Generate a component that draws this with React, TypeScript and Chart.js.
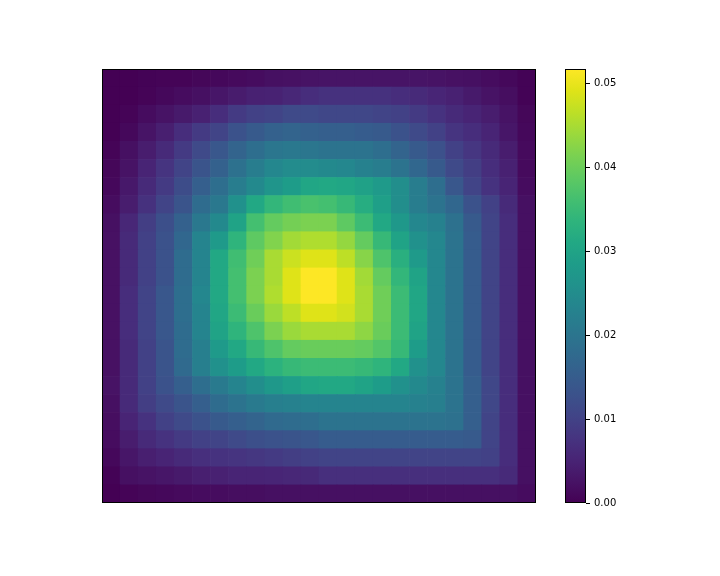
import React, { useEffect, useRef } from "react";
import { Chart, registerables } from "chart.js";

Chart.register(...registerables);

// Column categories of the 24 x 24 grid
const columnLabels = [
  "0", "1", "2", "3", "4", "5", "6", "7", "8", "9", "10", "11",
  "12", "13", "14", "15", "16", "17", "18", "19", "20", "21", "22", "23",
];

// Grid values, top row first, in units of 1e-3
const row00 = [0.0, 0.0, 0.3, 0.5, 0.5, 0.8, 1.0, 1.3, 1.6, 2.1, 2.3, 2.6, 2.8, 2.8, 2.8, 2.8, 2.8, 2.8, 2.6, 2.3, 2.1, 1.6, 1.0, 0.3];
const row01 = [0.0, 0.0, 0.5, 1.0, 1.6, 2.1, 3.1, 3.9, 4.7, 4.9, 5.7, 6.7, 7.2, 7.2, 7.2, 7.2, 6.7, 6.2, 5.4, 4.7, 3.6, 2.6, 1.8, 0.3];
const row02 = [0.0, 0.5, 1.6, 2.6, 3.6, 4.7, 6.7, 8.8, 9.8, 10.3, 11.4, 11.4, 10.9, 10.9, 10.9, 10.3, 9.8, 8.8, 7.5, 6.2, 5.2, 4.1, 2.6, 0.8];
const row03 = [0.0, 1.0, 2.8, 4.4, 6.7, 8.8, 10.3, 12.9, 14.5, 16.0, 16.5, 16.0, 15.5, 15.5, 15.0, 14.5, 12.9, 11.4, 9.8, 7.8, 6.7, 5.2, 3.1, 1.0];
const row04 = [0.5, 2.1, 4.1, 6.2, 8.8, 11.4, 14.0, 16.5, 18.6, 20.2, 20.7, 20.2, 19.6, 19.6, 19.6, 18.6, 16.5, 14.5, 12.7, 9.8, 8.0, 6.2, 4.1, 1.3];
const row05 = [0.8, 2.6, 5.2, 7.8, 10.3, 13.4, 16.0, 19.1, 21.7, 23.8, 24.8, 24.8, 24.3, 23.8, 22.7, 21.7, 19.6, 17.1, 14.5, 11.4, 9.3, 6.7, 4.7, 1.3];
const row06 = [1.0, 3.4, 6.2, 8.8, 11.9, 15.5, 18.6, 21.7, 24.3, 26.9, 28.4, 30.5, 31.0, 30.5, 29.5, 27.9, 25.3, 21.7, 18.6, 14.0, 10.3, 7.5, 5.2, 1.6];
const row07 = [1.6, 4.1, 7.2, 10.3, 13.4, 18.1, 20.7, 25.9, 31.0, 34.1, 35.7, 36.7, 36.2, 34.6, 32.1, 29.0, 25.3, 21.7, 19.6, 17.1, 12.9, 9.8, 6.2, 2.1];
const row08 = [2.1, 5.7, 9.3, 12.4, 16.0, 20.7, 24.3, 30.0, 36.2, 39.3, 40.8, 41.4, 41.4, 38.8, 35.2, 31.0, 27.4, 23.8, 22.7, 19.1, 14.5, 10.3, 6.7, 2.1];
const row09 = [2.3, 6.2, 9.8, 12.9, 17.1, 23.3, 27.9, 33.6, 38.8, 41.9, 44.5, 45.5, 45.5, 43.4, 39.3, 34.6, 30.0, 25.9, 23.8, 19.6, 15.0, 10.3, 6.7, 2.1];
const row10 = [2.3, 6.2, 9.8, 12.9, 18.1, 23.3, 31.0, 35.7, 40.3, 45.0, 47.6, 49.1, 49.1, 46.5, 42.4, 37.2, 32.6, 27.9, 23.8, 19.6, 15.0, 10.3, 6.7, 2.1];
const row11 = [2.3, 6.2, 9.8, 12.9, 18.1, 23.3, 31.0, 36.2, 41.4, 45.0, 49.1, 51.7, 51.7, 49.1, 44.5, 39.3, 34.1, 30.0, 23.8, 19.6, 15.0, 10.3, 6.7, 2.1];
const row12 = [2.3, 6.7, 10.3, 14.0, 18.6, 23.8, 31.0, 36.2, 41.4, 45.5, 49.1, 51.7, 51.7, 49.1, 45.0, 40.3, 35.2, 30.5, 23.8, 19.6, 15.0, 10.3, 6.7, 2.1];
const row13 = [2.3, 6.7, 10.3, 14.0, 18.6, 23.3, 30.5, 35.2, 39.8, 43.9, 46.5, 49.1, 49.1, 48.1, 45.0, 40.3, 35.2, 30.5, 23.8, 19.6, 15.0, 10.3, 6.7, 2.1];
const row14 = [2.3, 6.7, 10.3, 14.0, 18.1, 23.3, 30.0, 33.6, 37.2, 41.4, 43.9, 45.0, 45.0, 45.0, 42.9, 39.8, 35.2, 30.0, 23.8, 19.6, 15.0, 10.3, 6.7, 2.1];
const row15 = [2.3, 6.2, 9.8, 13.4, 18.1, 22.2, 27.9, 31.0, 34.6, 37.2, 39.3, 39.8, 39.8, 39.8, 39.3, 37.7, 34.6, 28.4, 23.8, 19.6, 15.0, 10.3, 6.7, 2.1];
const row16 = [2.3, 6.2, 9.8, 13.4, 17.6, 22.2, 25.9, 28.4, 31.0, 33.1, 34.6, 35.2, 35.2, 35.2, 34.6, 33.6, 31.0, 25.9, 23.8, 19.6, 15.0, 10.3, 6.7, 2.1];
const row17 = [2.6, 6.2, 9.8, 12.9, 15.5, 18.6, 21.2, 23.3, 25.3, 27.4, 29.0, 30.5, 31.0, 31.0, 30.0, 28.4, 25.9, 24.3, 22.7, 19.6, 15.5, 10.9, 6.7, 2.1];
const row18 = [2.1, 6.2, 9.3, 11.4, 13.4, 15.5, 18.1, 19.6, 21.2, 22.2, 22.7, 23.3, 23.3, 23.3, 23.3, 23.3, 23.3, 22.7, 22.2, 19.6, 15.5, 10.9, 6.7, 2.1];
const row19 = [1.8, 5.2, 7.5, 9.8, 11.4, 12.9, 14.5, 15.5, 16.5, 17.6, 18.1, 18.6, 19.6, 19.6, 19.6, 19.6, 19.6, 19.6, 19.6, 19.1, 15.5, 10.3, 6.7, 2.1];
const row20 = [1.6, 4.1, 6.2, 7.5, 8.8, 9.8, 10.3, 11.4, 12.4, 12.9, 13.4, 14.0, 15.0, 15.0, 15.0, 15.0, 15.0, 15.0, 15.0, 15.0, 14.5, 10.3, 6.7, 2.1];
const row21 = [1.0, 3.1, 4.4, 5.2, 6.2, 7.0, 7.5, 7.8, 8.3, 8.8, 9.3, 9.8, 10.3, 10.3, 10.3, 10.3, 10.3, 10.3, 10.3, 10.3, 10.3, 9.8, 6.7, 2.1];
const row22 = [0.3, 2.1, 2.6, 3.1, 3.6, 4.4, 4.7, 5.2, 5.2, 5.4, 5.7, 5.9, 7.0, 7.0, 7.0, 7.0, 7.0, 7.0, 7.0, 7.0, 7.0, 7.0, 6.2, 2.1];
const row23 = [0.0, 0.5, 0.8, 1.0, 1.3, 1.6, 1.6, 1.8, 1.8, 2.1, 2.1, 2.1, 2.1, 2.1, 2.1, 2.1, 2.1, 2.1, 2.1, 2.1, 2.1, 2.1, 2.1, 1.6];

const gridRows = [
  row00, row01, row02, row03, row04, row05, row06, row07, row08, row09, row10, row11,
  row12, row13, row14, row15, row16, row17, row18, row19, row20, row21, row22, row23,
];

// Colorbar ticks (same 1e-3 units) and their labels
const colorbarTicks = [0, 10, 20, 30, 40, 50];
const colorbarTickLabels = ["0.00", "0.01", "0.02", "0.03", "0.04", "0.05"];

// Viridis colormap, 21 evenly spaced stops
const VIRIDIS = [
  "#440154", "#471365", "#482475", "#463480", "#414487", "#3B528B", "#355F8D",
  "#2F6C8E", "#2A788E", "#25848E", "#21918C", "#1E9C89", "#22A884", "#2FB47C",
  "#44BF70", "#5EC962", "#7AD151", "#9BD93C", "#BDDF26", "#DFE318", "#FDE725",
];

function hexToRgb(h: string): [number, number, number] {
  const n = parseInt(h.slice(1), 16);
  return [(n >> 16) & 255, (n >> 8) & 255, n & 255];
}

function viridis(t: number): string {
  const c = Math.max(0, Math.min(1, t));
  const x = c * (VIRIDIS.length - 1);
  const i = Math.min(Math.floor(x), VIRIDIS.length - 2);
  const f = x - i;
  const a = hexToRgb(VIRIDIS[i]);
  const b = hexToRgb(VIRIDIS[i + 1]);
  const r = Math.round(a[0] + (b[0] - a[0]) * f);
  const g = Math.round(a[1] + (b[1] - a[1]) * f);
  const bl = Math.round(a[2] + (b[2] - a[2]) * f);
  return `rgb(${r},${g},${bl})`;
}

const allValues = gridRows.flat();
const vmin = Math.min(...allValues);
const vmax = Math.max(...allValues);

const framePlugin = {
  id: "frame",
  afterDatasetsDraw(chart: any) {
    const { ctx, chartArea } = chart;
    const { left, top, right, bottom } = chartArea;
    ctx.save();
    ctx.strokeStyle = "#000";
    ctx.lineWidth = 1;
    ctx.strokeRect(left + 0.5, top + 0.5, right - left - 1, bottom - top - 1);
    ctx.restore();
  },
};

export default function App() {
  const heatRef = useRef<HTMLCanvasElement>(null);
  const barRef = useRef<HTMLCanvasElement>(null);

  useEffect(() => {
    if (!heatRef.current || !barRef.current) return;

    const nRows = gridRows.length;
    // stacked bars: dataset 0 is the bottom row
    const datasets = gridRows
      .slice()
      .reverse()
      .map((row, k) => ({
        label: `row ${nRows - 1 - k}`,
        data: row.map(() => 1),
        backgroundColor: row.map((v) => viridis((v - vmin) / (vmax - vmin))),
        borderWidth: 0,
        barPercentage: 1,
        categoryPercentage: 1,
        stack: "grid",
      }));

    const heat = new Chart(heatRef.current, {
      type: "bar",
      data: { labels: columnLabels, datasets },
      options: {
        animation: false,
        responsive: false,
        layout: { padding: 1 },
        plugins: { legend: { display: false }, tooltip: { enabled: false } },
        scales: {
          x: { type: "category", display: false, stacked: true },
          y: { type: "linear", display: false, stacked: true, min: 0, max: nRows },
        },
      },
      plugins: [framePlugin],
    });

    const bar = new Chart(barRef.current, {
      type: "bar",
      data: {
        labels: ["colorbar"],
        datasets: [
          {
            data: [[vmin, vmax]] as any,
            backgroundColor: (c: any) => {
              const chart = c.chart;
              const ys = chart.scales && chart.scales.y;
              if (!chart.chartArea || !ys) return VIRIDIS[0];
              const y0 = ys.getPixelForValue(vmin);
              const y1 = ys.getPixelForValue(vmax);
              const g = chart.ctx.createLinearGradient(0, y0, 0, y1);
              VIRIDIS.forEach((col, i) => g.addColorStop(i / (VIRIDIS.length - 1), col));
              return g;
            },
            borderWidth: 0,
            barPercentage: 1,
            categoryPercentage: 1,
          },
        ],
      },
      options: {
        animation: false,
        responsive: false,
        layout: { padding: { left: 5, top: 8, bottom: 8, right: 0 } },
        plugins: { legend: { display: false }, tooltip: { enabled: false } },
        scales: {
          x: { type: "category", display: false },
          y: {
            type: "linear",
            position: "right",
            min: vmin,
            max: vmax,
            afterBuildTicks: (s: any) => {
              s.ticks = colorbarTicks.map((v) => ({ value: v }));
            },
            afterFit: (s: any) => {
              s.width = 54;
              s.paddingTop = 0;
              s.paddingBottom = 0;
            },
            grid: {
              drawOnChartArea: false,
              drawTicks: true,
              tickLength: 4,
              color: "#000",
              lineWidth: 1,
            },
            border: { display: false },
            ticks: {
              padding: 4,
              color: "#000",
              font: { family: "DejaVu Sans", size: 10 },
              callback: (value: any) => {
                const i = colorbarTicks.indexOf(Number(value));
                return i >= 0 ? colorbarTickLabels[i] : "";
              },
            },
          },
        },
      },
      plugins: [framePlugin],
    });

    return () => {
      heat.destroy();
      bar.destroy();
    };
  }, []);

  return (
    <div
      style={{
        position: "fixed",
        left: 0,
        top: 0,
        width: 720,
        height: 576,
        background: "#fff",
      }}
    >
      <canvas
        ref={heatRef}
        width={436}
        height={436}
        style={{ position: "absolute", left: 101, top: 68, width: 436, height: 436 }}
      />
      <canvas
        ref={barRef}
        width={80}
        height={450}
        style={{ position: "absolute", left: 560, top: 61, width: 80, height: 450 }}
      />
    </div>
  );
}
